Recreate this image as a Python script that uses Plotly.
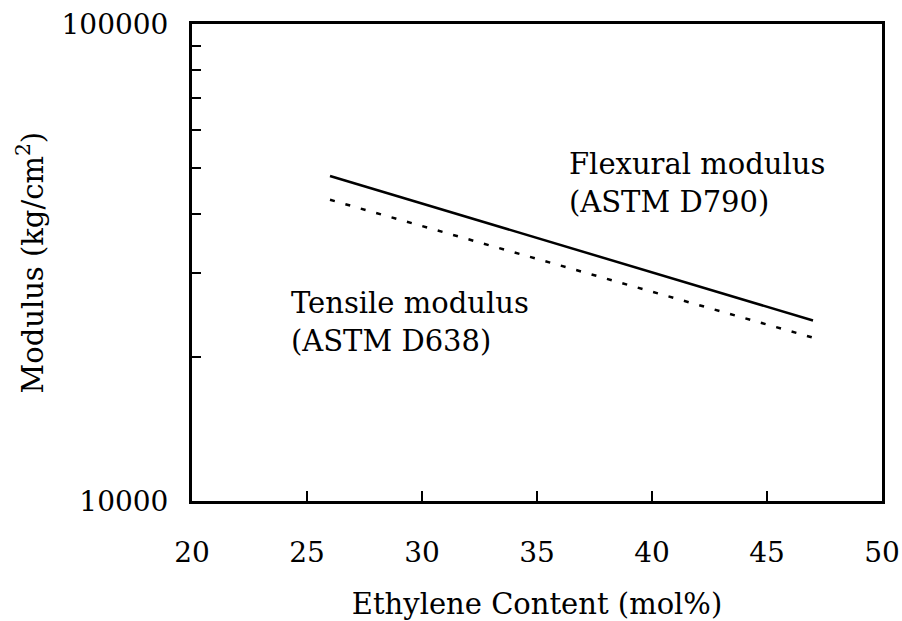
import plotly.graph_objects as go

ethylene_mol = [26, 47]
flexural_modulus = [48000, 23900]
tensile_modulus = [42800, 22000]

x_ticks = [20, 25, 30, 35, 40, 45, 50]
y_major_ticks = [10000, 100000]
y_major_text = ["10000", "100000"]
y_minor_ticks = [20000, 30000, 40000, 50000, 60000, 70000, 80000, 90000]

FONT = "DejaVu Serif"

fig = go.Figure()
fig.add_trace(go.Scatter(x=ethylene_mol, y=flexural_modulus, mode="lines",
                         line=dict(color="black", width=2.5), showlegend=False))
fig.add_trace(go.Scatter(x=ethylene_mol, y=tensile_modulus, mode="lines",
                         line=dict(color="black", width=2.5, dash="5px,11px"), showlegend=False))

fig.add_annotation(x=36.33, y=4.745, xref="x", yref="y", text="Flexural modulus<br>(ASTM D790)",
                   showarrow=False, xanchor="left", yanchor="top", align="left",
                   font=dict(family=FONT, size=29, color="black"), borderpad=0)
fig.add_annotation(x=24.26, y=4.452, xref="x", yref="y", text="Tensile modulus<br>(ASTM D638)",
                   showarrow=False, xanchor="left", yanchor="top", align="left",
                   font=dict(family=FONT, size=29, color="black"), borderpad=0)
# y-axis title as a rotated annotation so its position can be set exactly
fig.add_annotation(x=0, y=0.5, xref="paper", yref="paper", text="Modulus (kg/cm<sup>2</sup>)",
                   textangle=-90, showarrow=False, xanchor="center", yanchor="middle",
                   xshift=-162, font=dict(family=FONT, size=29, color="black"))

fig.update_layout(
    width=902, height=621,
    margin=dict(l=192, r=20, t=24, b=120, autoexpand=False),
    paper_bgcolor="white", plot_bgcolor="white",
    font=dict(family=FONT, size=28, color="black"),
)
fig.update_xaxes(range=[20, 50], tickvals=x_ticks, ticks="inside", ticklen=10, tickwidth=2,
                 tickcolor="black", showline=True, linewidth=3, linecolor="black", mirror=True,
                 showgrid=False, zeroline=False, ticklabelstandoff=24, ticklabeloverflow="allow",
                 tickfont=dict(family=FONT, size=28),
                 title=dict(text="Ethylene Content (mol%)", standoff=31,
                            font=dict(family=FONT, size=29)))
fig.update_yaxes(type="log", range=[4 - 1e-6, 5 + 1e-6], tickvals=y_major_ticks, ticktext=y_major_text,
                 ticks="inside", ticklen=9, tickwidth=2, tickcolor="black",
                 minor=dict(tickvals=y_minor_ticks, ticks="inside", ticklen=9, tickwidth=2,
                            tickcolor="black", showgrid=False),
                 showline=True, linewidth=3, linecolor="black", mirror=True,
                 showgrid=False, zeroline=False, ticklabelstandoff=15, ticklabeloverflow="allow",
                 tickfont=dict(family=FONT, size=28))

# remove the browser's default 8px page margin so the 902x621 figure fills the window exactly
fig.write_html("out.html", config={"displayModeBar": False},
               post_script="document.body.style.margin='0';document.body.style.overflow='hidden';")
